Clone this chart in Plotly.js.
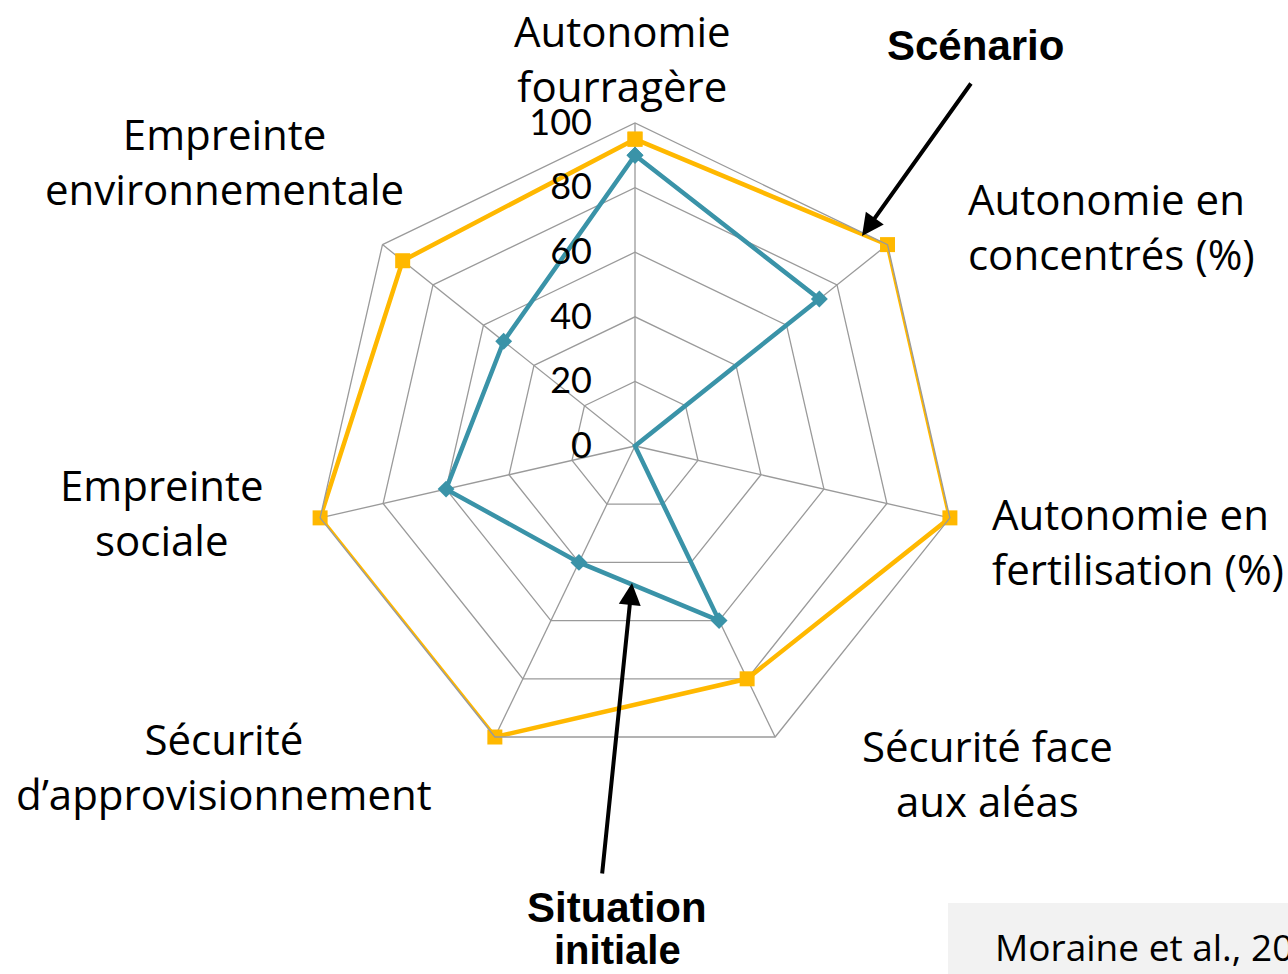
<!DOCTYPE html>
<html>
<head>
<meta charset="utf-8">
<script src="https://cdn.plot.ly/plotly-3.0.1.min.js"></script>
<style>html,body{margin:0;padding:0;background:#fff;}#chart{width:1288px;height:974px;}</style>
</head>
<body>
<div id="chart"></div>
<script>
// ---- data ----
const categories = [
  "Autonomie fourragère",
  "Autonomie en concentrés (%)",
  "Autonomie en fertilisation (%)",
  "Sécurité face aux aléas",
  "Sécurité d’approvisionnement",
  "Empreinte sociale",
  "Empreinte environnementale"
];
const labelTexts = [
  "Autonomie<br>fourragère",
  "Autonomie en<br>concentrés (%)",
  "Autonomie en<br>fertilisation (%)",
  "Sécurité face<br>aux aléas",
  "Sécurité<br>d’approvisionnement",
  "Empreinte<br>sociale",
  "Empreinte<br>environnementale"
];
const situationInitiale = [90, 73, 0, 60, 40, 60, 52];
const scenario = [95, 100, 100, 80, 100, 100, 92];
const radialTicks = [0, 20, 40, 60, 80, 100];
const seriesNames = ["Situation initiale", "Scénario"];
const sourceText = "Moraine et al., 2017";

// ---- layout helpers ----
const W = 1288, H = 974;
const px = x => x / W;
const py = y => 1 - y / H;
const close = a => a.concat([a[0]]);
const theta = close(categories);

const gridCol = "#9a9a9a";
const labelFont = {family: "Open Sans, sans-serif", size: 42, color: "#000"};
const boldFont = {family: "Liberation Sans, Arial, sans-serif", size: 42, color: "#000"};

const traces = [
  {
    type: "scatterpolar", name: seriesNames[1],
    r: close(scenario), theta: theta, mode: "lines+markers",
    line: {color: "#FFB800", width: 4.5},
    marker: {symbol: "square", size: 15, color: "#FFB800"},
    hoverinfo: "skip"
  },
  {
    type: "scatterpolar", name: seriesNames[0],
    r: close(situationInitiale), theta: theta, mode: "lines+markers",
    line: {color: "#3A93A8", width: 4.5},
    marker: {symbol: "diamond", size: 13, color: "#3A93A8"},
    hoverinfo: "skip"
  }
];

// label positions (pixel centres / anchors)
const labelPos = [
  {x: 622, y: 58, xa: "center", al: "center"},
  {x: 966, y: 226, xa: "left", al: "left"},
  {x: 990, y: 541, xa: "left", al: "left"},
  {x: 987, y: 773, xa: "center", al: "center"},
  {x: 224, y: 766, xa: "center", al: "center"},
  {x: 162, y: 512, xa: "center", al: "center"},
  {x: 224, y: 161, xa: "center", al: "center"}
];

const annotations = labelTexts.map((t, i) => ({
  text: t, xref: "paper", yref: "paper",
  x: px(labelPos[i].x), y: py(labelPos[i].y),
  xanchor: labelPos[i].xa, yanchor: "middle", align: labelPos[i].al,
  showarrow: false, font: labelFont
}));

// series callouts
annotations.push({
  text: "<b>" + seriesNames[1] + "</b>", xref: "paper", yref: "paper",
  x: px(975), y: py(46), xanchor: "center", yanchor: "middle",
  showarrow: false, font: boldFont
});
annotations.push({
  text: "", xref: "paper", yref: "paper",
  x: px(862), y: py(236), ax: 110, ay: -154,
  showarrow: true, arrowhead: 2, arrowsize: 1.1, arrowwidth: 4, arrowcolor: "#000"
});
const sitWords = seriesNames[0].split(" ");
annotations.push({
  text: "<b>" + sitWords[0] + "</b>", xref: "paper", yref: "paper",
  x: px(617), y: py(907), xanchor: "center", yanchor: "middle",
  showarrow: false, font: boldFont
});
annotations.push({
  text: "<b>" + sitWords[1] + "</b>", xref: "paper", yref: "paper",
  x: px(617), y: py(950), xanchor: "center", yanchor: "middle",
  showarrow: false, font: {family: boldFont.family, size: 40, color: "#000"}
});
annotations.push({
  text: "", xref: "paper", yref: "paper",
  x: px(632), y: py(583), ax: -30, ay: 292,
  showarrow: true, arrowhead: 2, arrowsize: 1.1, arrowwidth: 4, arrowcolor: "#000"
});
// source
annotations.push({
  text: sourceText, xref: "paper", yref: "paper",
  x: px(993), y: py(946), xanchor: "left", yanchor: "middle",
  showarrow: false, font: {family: "Open Sans, sans-serif", size: 37, color: "#000"}
});

const cx = 635, cy = 446, R = 323;

const layout = {
  width: W, height: H,
  margin: {l: 0, r: 0, t: 0, b: 0},
  paper_bgcolor: "#fff",
  showlegend: false,
  hovermode: false,
  polar: {
    domain: {x: [px(cx - R), px(cx + R)], y: [py(cy + R), py(cy - R)]},
    gridshape: "linear",
    bgcolor: "#fff",
    angularaxis: {
      type: "category", categoryarray: categories,
      rotation: 90, direction: "clockwise",
      showticklabels: false, ticks: "",
      showline: true, linecolor: gridCol, linewidth: 1.3,
      showgrid: true, gridcolor: gridCol, gridwidth: 1.3
    },
    radialaxis: {
      range: [0, 100], angle: 90, side: "counterclockwise",
      tickvals: radialTicks, ticktext: radialTicks.map(String),
      showline: false, showgrid: true, gridcolor: gridCol, gridwidth: 1.3,
      ticks: "outside", ticklen: 30, tickcolor: "rgba(0,0,0,0)",
      tickangle: 90,
      tickfont: {family: "Lato, sans-serif", size: 36, color: "#000"}
    }
  },
  shapes: [{
    type: "rect", xref: "paper", yref: "paper",
    x0: px(948), x1: 1.05, y0: py(903), y1: -0.05,
    fillcolor: "#f2f2f2", line: {width: 0}, layer: "below"
  }],
  annotations: annotations
};

Plotly.newPlot("chart", traces, layout, {staticPlot: true, displayModeBar: false});
</script>
</body>
</html>
